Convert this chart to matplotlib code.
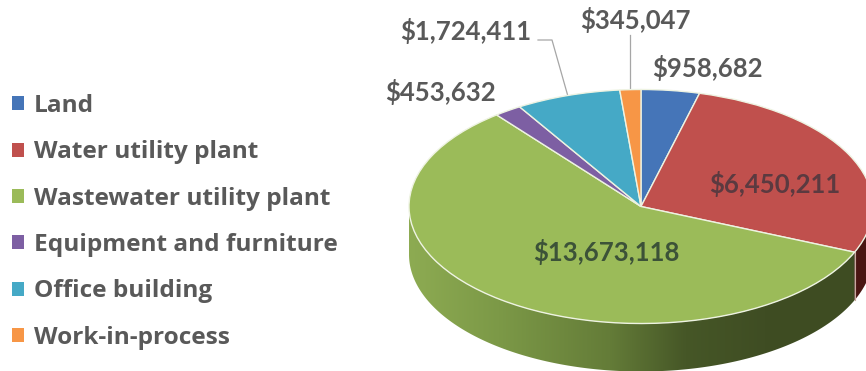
import numpy as np
import matplotlib
matplotlib.use("Agg")
import matplotlib.pyplot as plt
from matplotlib.patches import Patch, Polygon

categories = ["Land", "Water utility plant", "Wastewater utility plant",
              "Equipment and furniture", "Office building", "Work-in-process"]
values = [958682, 6450211, 13673118, 453632, 1724411, 345047]
labels = ["$958,682", "$6,450,211", "$13,673,118", "$453,632", "$1,724,411", "$345,047"]
colors = ["#4575b8", "#c0504d", "#9bbb59", "#7d5fa3", "#45a9c6", "#f79646"]
label_colors = ["#595959", "#5b3a40", "#3c5238", "#595959", "#595959", "#595959"]

W, H = 866, 371
CX, CY, RX, RY, DEPTH = 641.0, 206.5, 232.0, 117.0, 48.0
label_px = [(707, 68), (775, 184), (606, 252), (440, 92), (466, 31), (635, 20)]

plt.rcParams["font.family"] = ["Lato", "DejaVu Sans"]
plt.rcParams["text.parse_math"] = False
fig = plt.figure(figsize=(W / 100, H / 100), dpi=100)
ax = fig.add_axes([0, 0, 1, 1])

wedges, _ = ax.pie(values, colors=colors, startangle=90, counterclock=False, radius=1,
                   wedgeprops=dict(edgecolor="#eef3e2", linewidth=1.0, zorder=5))
ax.set_aspect("auto")
ax.set_xlim(-CX / RX, (W - CX) / RX)
ax.set_ylim((CY - H) / RY, CY / RY)
ax.set_axis_off()

depth = DEPTH / RY
fractions = np.cumsum([0] + values) / sum(values)
angles = 360 * fractions  # clockwise from twelve o'clock


def rim(a0, a1, n=200):
    t = np.radians(np.linspace(a0, a1, n))
    return np.sin(t), np.cos(t)


def wall_path(a0, a1):
    x, y = rim(a0, a1)
    xy = np.r_[np.c_[x, y], np.c_[x[::-1], y[::-1] - depth]]
    return Polygon(xy, closed=True, transform=ax.transData, facecolor="none", edgecolor="none")


# Green side wall, shaded from lit left to dark right
stops = np.array([[0x8d, 0xab, 0x52], [0x7c, 0x99, 0x47], [0x64, 0x7c, 0x38],
                  [0x46, 0x57, 0x27], [0x3f, 0x4d, 0x23], [0x3e, 0x4c, 0x22]]) / 255
pos = np.array([0.0, 0.2, 0.45, 0.62, 0.8, 1.0])
grad = np.stack([np.interp(np.linspace(0, 1, 256), pos, stops[:, i]) for i in range(3)], axis=-1)
green_wall = wall_path(angles[2], 270)
ax.add_patch(green_wall)
im = ax.imshow(grad[np.newaxis, :, :], extent=[-1, np.sin(np.radians(angles[2])), -1.6, 0.2],
               aspect="auto", zorder=2, interpolation="bilinear")
im.set_clip_path(green_wall)
ax.set_xlim(-CX / RX, (W - CX) / RX)
ax.set_ylim((CY - H) / RY, CY / RY)

# Dark red side wall on the far right
red_wall = wall_path(90, angles[2])
red_wall.set_facecolor("#4a1512")
red_wall.set_zorder(2)
ax.add_patch(red_wall)

# Light seam where the red and green walls meet
sx, sy = rim(angles[2], angles[2], 2)
ax.plot([sx[0], sx[0]], [sy[0], sy[0] - depth], color="#c9a9a0", lw=0.8, zorder=3)


def fx(px, py):
    return px / W, 1 - py / H


for text, color, (px, py) in zip(labels, label_colors, label_px):
    ax.text(*fx(px, py), text, transform=ax.transAxes, ha="center", va="center",
            fontsize=18.5, fontweight="bold", color=color, zorder=8)

# Leader lines run from the outer labels to the middle of their slices
mid = np.radians((angles[:-1] + angles[1:]) / 2)
ox, oy = np.sin(mid[4]), np.cos(mid[4])
ax.plot([(538 - CX) / RX, (552 - CX) / RX, ox], [(CY - 40) / RY, (CY - 40) / RY, oy],
        color="#a6a6a6", lw=0.9, zorder=4)
wx, wy = np.sin(mid[5]), np.cos(mid[5])
ax.plot([wx, wx], [(CY - 35) / RY, wy], color="#a6a6a6", lw=0.9, zorder=4)

handles = [Patch(facecolor=c, edgecolor="none") for c in colors]
ax.legend(handles, categories, loc="center left", bbox_to_anchor=(12 / W, 0.402), frameon=False,
          labelcolor="#595959", prop=dict(family="Open Sans", weight="bold", size=17.6),
          handlelength=0.49, handleheight=0.49, handletextpad=0.41,
          labelspacing=0.915, borderaxespad=0, borderpad=0)

fig.savefig("out.png", dpi=100)
